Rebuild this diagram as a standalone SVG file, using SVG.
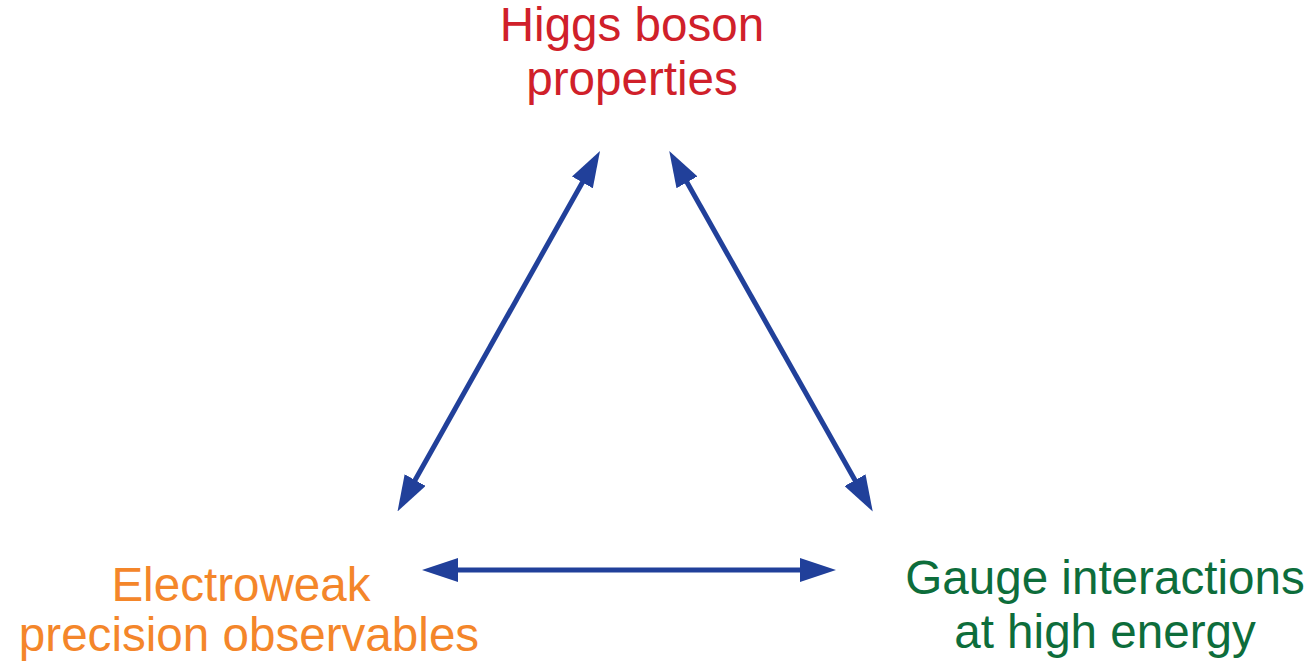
<svg xmlns="http://www.w3.org/2000/svg" width="1315" height="664" viewBox="0 0 1315 664">
<style>
text{font-family:"Liberation Sans",Arial,sans-serif;font-size:47.6px;text-anchor:middle}
.red{fill:#d0202a}.orange{fill:#f4862a}.green{fill:#0d6d3b}
.conn{stroke:#21409a;stroke-width:5;fill:none;marker-start:url(#ah);marker-end:url(#ah)}
</style>
<defs>
<marker id="ah" markerUnits="userSpaceOnUse" markerWidth="36" markerHeight="24" refX="6" refY="12" orient="auto-start-reverse" viewBox="0 0 36 24">
<path d="M0,0 L36,12 L0,24 z" fill="#21409a"/>
</marker>
</defs>
<rect width="1315" height="664" fill="#fff"/>
<g id="connectors">
<line class="conn" x1="412.2" y1="485.3" x2="585.3" y2="177.2"/>
<line class="conn" x1="684" y1="177.1" x2="858" y2="485.4"/>
<line class="conn" x1="452" y1="570" x2="806" y2="570"/>
</g>
<g id="higgs">
<text class="red" x="632" y="41">Higgs boson</text>
<text class="red" x="632" y="95">properties</text>
</g>
<g id="electroweak">
<text class="orange" x="241" y="601">Electroweak</text>
<text class="orange" x="249" y="651">precision observables</text>
</g>
<g id="gauge">
<text class="green" x="1105" y="594">Gauge interactions</text>
<text class="green" x="1105" y="648">at high energy</text>
</g>
</svg>
